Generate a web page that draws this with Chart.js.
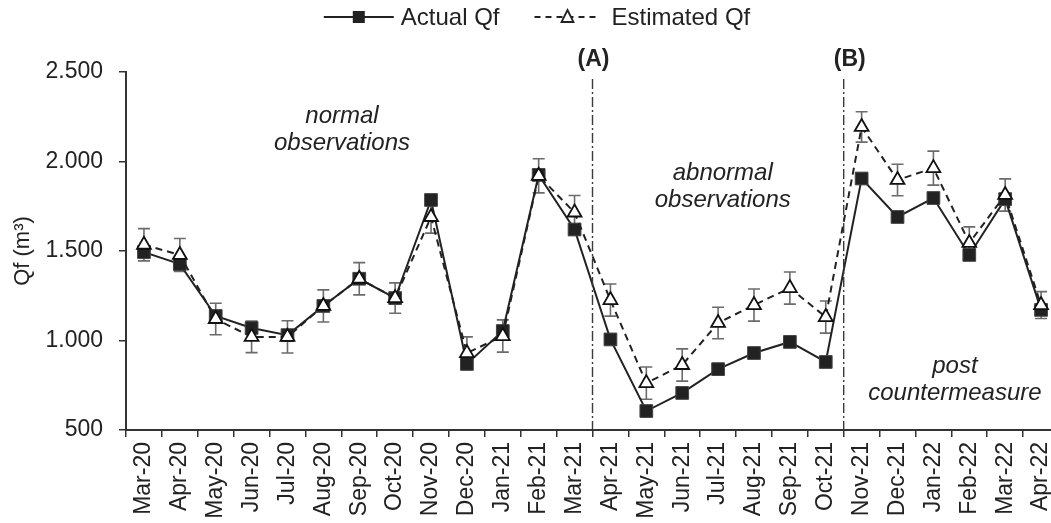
<!DOCTYPE html>
<html>
<head>
<meta charset="utf-8">
<script src="https://cdn.jsdelivr.net/npm/chart.js@4.4.1/dist/chart.umd.min.js"></script>
<style>
  html, body { margin: 0; padding: 0; background: #fff; overflow: hidden; }
  #clip { width: 1051px; height: 523px; overflow: hidden; position: relative; }
  canvas { display: block; position: absolute; left: 0; top: 0; }
</style>
</head>
<body>
<div id="clip"><canvas id="chart" width="1069" height="523"></canvas></div>
<script>
// ---------- data ----------
const months = ['Mar-20', 'Apr-20', 'May-20', 'Jun-20', 'Jul-20', 'Aug-20', 'Sep-20', 'Oct-20',
  'Nov-20', 'Dec-20', 'Jan-21', 'Feb-21', 'Mar-21', 'Apr-21', 'May-21', 'Jun-21', 'Jul-21',
  'Aug-21', 'Sep-21', 'Oct-21', 'Nov-21', 'Dec-21', 'Jan-22', 'Feb-22', 'Mar-22', 'Apr-22'];

const actualQf = [1494, 1427, 1137, 1070, 1030, 1193, 1345, 1237, 1785, 869, 1053, 1925, 1620,
  1006, 606, 707, 840, 930, 992, 880, 1905, 1690, 1796, 1478, 1790, 1171];

const estimatedQf = [1535, 1478, 1120, 1020, 1020, 1193, 1345, 1237, 1690, 930, 1025, 1920, 1715,
  1226, 762, 863, 1098, 1198, 1293, 1131, 2193, 1897, 1963, 1545, 1813, 1198];

const estimatedErr = [90, 92, 88, 88, 90, 90, 90, 85, 90, 90, 90, 95, 95,
  90, 90, 90, 88, 90, 90, 90, 85, 88, 95, 90, 90, 75];

const yTicks = [500, 1000, 1500, 2000, 2500];

// phase breaks sit between Mar-21 / Apr-21 and Oct-21 / Nov-21
const breakAfter = ['Mar-21', 'Oct-21'];
const breakLabels = ['(A)', '(B)'];

// annotation text: x as category index, y as value of the first baseline
const notes = [
  { lines: ['normal', 'observations'], x: 5.52, y: 2215 },
  { lines: ['abnormal', 'observations'], x: 16.13, y: 1897 },
  { lines: ['post', 'countermeasure'], x: 22.6, y: 818 }
];

const FONT = "'Liberation Sans', Arial, Helvetica, sans-serif";
const INK = '#222';

const fmt = v => String(v).replace(/\B(?=(\d{3})+(?!\d))/g, '.');

// error bars of the estimated series
const errorBars = {
  id: 'errorBars',
  beforeDatasetsDraw(chart) {
    const { ctx, scales: { y } } = chart;
    const meta = chart.getDatasetMeta(1);
    ctx.save();
    ctx.strokeStyle = '#6b6b6b';
    ctx.lineWidth = 1.6;
    meta.data.forEach((pt, i) => {
      const top = y.getPixelForValue(estimatedQf[i] + estimatedErr[i]);
      const bot = y.getPixelForValue(estimatedQf[i] - estimatedErr[i]);
      ctx.beginPath();
      ctx.moveTo(pt.x, top); ctx.lineTo(pt.x, bot);
      ctx.moveTo(pt.x - 6, top); ctx.lineTo(pt.x + 6, top);
      ctx.moveTo(pt.x - 6, bot); ctx.lineTo(pt.x + 6, bot);
      ctx.stroke();
    });
    ctx.restore();
  }
};

// phase lines, phase texts and the legend
const decorations = {
  id: 'decorations',
  afterDraw(chart) {
    const { ctx, chartArea, scales: { x, y } } = chart;
    ctx.save();

    breakAfter.forEach((m, i) => {
      const px = x.getPixelForValue(months.indexOf(m) + 0.5);
      ctx.strokeStyle = '#3a3a3a';
      ctx.lineWidth = 1.4;
      ctx.setLineDash([10, 3, 2, 3]);
      ctx.beginPath();
      ctx.moveTo(px, chartArea.top + 7);
      ctx.lineTo(px, chartArea.bottom);
      ctx.stroke();
      ctx.setLineDash([]);
      ctx.fillStyle = INK;
      ctx.font = `bold 23px ${FONT}`;
      ctx.textAlign = 'center';
      ctx.textBaseline = 'middle';
      ctx.fillText(breakLabels[i], px + 1 + i * 5, chartArea.top - 12);
    });

    ctx.font = `italic 24px ${FONT}`;
    ctx.textAlign = 'center';
    ctx.textBaseline = 'alphabetic';
    ctx.fillStyle = INK;
    notes.forEach(n => {
      const px = x.getPixelForValue(n.x);
      const py = y.getPixelForValue(n.y);
      n.lines.forEach((t, k) => ctx.fillText(t, px, py + k * 27));
    });

    // legend
    const ds = chart.data.datasets;
    ctx.font = `24px ${FONT}`;
    const w1 = ctx.measureText(ds[0].label).width;
    const w2 = ctx.measureText(ds[1].label).width;
    const total = 70 + 7 + w1 + 35 + 65 + 12 + w2;
    let lx = 537 - total / 2;
    const ly = 17;
    ctx.strokeStyle = INK;
    ctx.lineWidth = 2;
    ctx.beginPath(); ctx.moveTo(lx, ly); ctx.lineTo(lx + 70, ly); ctx.stroke();
    ctx.fillStyle = INK;
    ctx.fillRect(lx + 35 - 6, ly - 6, 12, 12);
    ctx.textAlign = 'left';
    ctx.textBaseline = 'middle';
    ctx.fillText(ds[0].label, lx + 77, ly + 1);
    lx += 70 + 7 + w1 + 35;
    ctx.setLineDash([6, 5]);
    ctx.beginPath(); ctx.moveTo(lx, ly); ctx.lineTo(lx + 65, ly); ctx.stroke();
    ctx.setLineDash([]);
    ctx.beginPath();
    ctx.moveTo(lx + 33, ly - 7); ctx.lineTo(lx + 39, ly + 5); ctx.lineTo(lx + 27, ly + 5); ctx.closePath();
    ctx.fillStyle = '#fff'; ctx.fill();
    ctx.lineWidth = 1.8; ctx.stroke();
    ctx.fillStyle = INK;
    ctx.fillText(ds[1].label, lx + 77, ly + 1);

    ctx.restore();
  }
};

new Chart(document.getElementById('chart'), {
  type: 'line',
  data: {
    labels: months,
    datasets: [{
      label: 'Actual Qf',
      data: actualQf,
      order: 1,
      borderColor: INK,
      borderWidth: 2,
      pointStyle: 'rect',
      pointRadius: 9,
      pointBackgroundColor: '#222',
      pointBorderColor: '#444',
      pointBorderWidth: 1,
      tension: 0
    }, {
      label: 'Estimated Qf',
      data: estimatedQf,
      order: 0,
      borderColor: INK,
      borderWidth: 2,
      borderDash: [7, 5],
      pointStyle: 'triangle',
      pointRadius: 8,
      pointBackgroundColor: '#fff',
      pointBorderColor: '#111',
      pointBorderWidth: 1.8,
      tension: 0
    }]
  },
  options: {
    responsive: false,
    devicePixelRatio: 1,
    animation: false,
    // canvas is a bit wider than the page: the plot runs past the right edge, as in the source figure
    layout: { padding: { top: 72, right: 3, left: 0, bottom: 0 } },
    plugins: {
      legend: { display: false },
      tooltip: { enabled: false }
    },
    scales: {
      x: {
        offset: true,
        grid: { drawOnChartArea: false, offset: true, tickLength: 7, color: '#333', lineWidth: 1.5 },
        border: { color: '#333', width: 2 },
        ticks: {
          minRotation: 90, maxRotation: 90, autoSkip: false, padding: 5,
          color: INK, font: { family: FONT, size: 23 }
        },
        afterFit: s => { s.height = 93; s.paddingRight = 0; }
      },
      y: {
        min: 500, max: 2500,
        afterBuildTicks: s => { s.ticks = yTicks.map(v => ({ value: v })); },
        grid: { drawOnChartArea: false, tickLength: 7, color: '#333', lineWidth: 1.5 },
        border: { color: '#333', width: 2 },
        ticks: {
          padding: 16, color: INK, font: { family: FONT, size: 23 },
          callback: v => fmt(v)
        },
        title: {
          display: true, text: 'Qf (m³)', color: INK,
          font: { family: FONT, size: 22 }, padding: { top: 10, bottom: 0 }
        },
        afterFit: s => { s.width = 126; }
      }
    }
  },
  plugins: [errorBars, decorations]
});
</script>
</body>
</html>
